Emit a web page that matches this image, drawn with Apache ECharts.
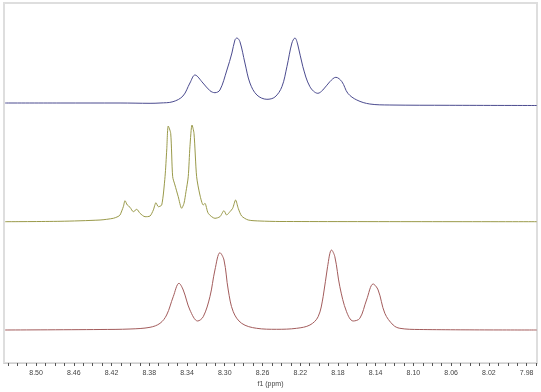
<!DOCTYPE html>
<html>
<head>
<meta charset="utf-8">
<script src="https://cdn.jsdelivr.net/npm/echarts@6/dist/echarts.min.js"></script>
<style>html,body{margin:0;padding:0;background:#fff;}#c{width:541px;height:392px;}</style>
</head>
<body>
<div id="c"></div>
<script>
// Top spectrum (blue)
var topPpm = [8.5328,8.4746,8.4110,8.3792,8.3686,8.3549,8.3443,8.3369,8.3316,8.3231,8.3157,8.3104,8.3051,8.2977,8.2924,8.2892,8.2871,8.2839,8.2786,8.2733,8.2659,8.2553,8.2468,8.2394,8.2341,8.2288,8.2256,8.2225,8.2172,8.2097,8.2013,8.1960,8.1886,8.1822,8.1758,8.1695,8.1600,8.1462,8.1250,8.0614,7.9693];
var topInt = [3,3,3,2.7,3,4.3,10,23,31,23,15.3,13.3,16,36,53,66,68,64.3,43,23,11,6.7,9,19.3,39.3,63,68,61,39.3,19.3,12.7,16,24.3,28.7,24.3,12.7,6,2,1,0.7,0.5];
// Middle spectrum (olive)
var midPpm = [8.5328,8.4746,8.4322,8.4181,8.4131,8.4110,8.4075,8.4057,8.4033,8.4004,8.3969,8.3933,8.3898,8.3845,8.3792,8.3757,8.3729,8.3704,8.3668,8.3633,8.3615,8.3599,8.3573,8.3552,8.3528,8.3493,8.3457,8.3432,8.3411,8.3387,8.3369,8.3347,8.3326,8.3298,8.3263,8.3228,8.3210,8.3175,8.3104,8.3051,8.3008,8.2980,8.2945,8.2916,8.2885,8.2857,8.2821,8.2751,8.2627,8.2415,7.9693];
var midInt = [0.3,0.7,2,3.7,5.5,7,15.3,21.3,17,14.7,10.3,12.7,8.7,5.3,6,12,19.3,15.3,17,45.3,72,96,88.7,45.3,37,25.3,13.7,18.7,30.3,45.3,75.3,97,88.7,45.3,27,17,18.7,8.7,3.7,5.3,11.3,7,10.3,13.7,22,13.7,6,2,1,0.5,0.3];
// Bottom spectrum (red)
var botPpm = [8.5328,8.4322,8.4004,8.3792,8.3686,8.3616,8.3546,8.3485,8.3440,8.3369,8.3287,8.3228,8.3157,8.3104,8.3051,8.3008,8.2963,8.2910,8.2821,8.2662,8.2450,8.2238,8.2097,8.2010,8.1957,8.1910,8.1868,8.1833,8.1780,8.1709,8.1639,8.1568,8.1497,8.1427,8.1374,8.1303,8.1215,8.1144,8.0932,7.9693];
var botInt = [0,0.5,1,2.7,6.7,15,33.3,46.7,40,20,9,13.3,33.3,60,77.3,70,40,18.3,6.7,1.7,0.7,1.7,5,13.3,33.3,63.3,80,73.3,43.3,18.3,9,11.7,30,46,40,16.7,5,1.7,0.5,0];
// Axis tick labels
var tickLabels = ['8.50','8.46','8.42','8.38','8.34','8.30','8.26','8.22','8.18','8.14','8.10','8.06','8.02','7.98'];
var minorTicks = ['8.53','8.52','8.51','8.50','8.49','8.48','8.47','8.46','8.45','8.44','8.43','8.42','8.41','8.40','8.39','8.38','8.37','8.36','8.35','8.34','8.33','8.32','8.31','8.30','8.29','8.28','8.27','8.26','8.25','8.24','8.23','8.22','8.21','8.20','8.19','8.18','8.17','8.16','8.15','8.14','8.13','8.12','8.11','8.10','8.09','8.08','8.07','8.06','8.05','8.04','8.03','8.02','8.01','8.00','7.99','7.98','7.97'];

function pairs(xs, ys){ return xs.map(function(x,i){ return [x, ys[i]]; }); }

var XMIN = 7.969, XMAX = 8.534;
var chart = echarts.init(document.getElementById('c'), null, {renderer:'canvas'});
var font = 'Liberation Sans';
function hiddenX(gi){ return {type:'value', gridIndex:gi, min:XMIN, max:XMAX, inverse:true, show:false}; }
var option = {
  animation:false,
  backgroundColor:'#fff',
  grid:[
    {left:4, right:4, top:3, height:107},
    {left:4, right:4, top:110, height:116},
    {left:4, right:4, top:226, height:137},
    {left:4, right:4, top:3, height:360, show:true, borderColor:'#dedede', borderWidth:2, backgroundColor:'transparent', z:0}
  ],
  xAxis:[
    hiddenX(0), hiddenX(1),
    {type:'value', gridIndex:2, min:XMIN, max:XMAX, inverse:true,
     name:'f1 (ppm)', nameLocation:'middle', nameGap:18,
     nameTextStyle:{fontFamily:font, fontSize:7, color:'#444'},
     axisLine:{show:true, onZero:false, lineStyle:{color:'#cfcfcf', width:1}},
     axisTick:{show:true, length:3, inside:false, customValues: minorTicks.map(Number), lineStyle:{color:'#555'}},
     axisLabel:{show:true, customValues: tickLabels.map(Number), margin:7, fontFamily:font, fontSize:7, color:'#444',
       formatter:function(v){ return v.toFixed(2); }},
     splitLine:{show:false}},
    hiddenX(3)
  ],
  yAxis:[
    {type:'value', gridIndex:0, min:-4, max:103, show:false},
    {type:'value', gridIndex:1, min:-4, max:112, show:false},
    {type:'value', gridIndex:2, min:-33, max:104, show:false},
    {type:'value', gridIndex:3, min:0, max:1, show:false}
  ],
  series:[
    {type:'line', xAxisIndex:0, yAxisIndex:0, data:pairs(topPpm, topInt), smooth:0.35, symbol:'none', lineStyle:{color:'#4b4b8f', width:1}},
    {type:'line', xAxisIndex:1, yAxisIndex:1, data:pairs(midPpm, midInt), smooth:0.25, symbol:'none', lineStyle:{color:'#9a9a4a', width:1}},
    {type:'line', xAxisIndex:2, yAxisIndex:2, data:pairs(botPpm, botInt), smooth:0.35, symbol:'none', lineStyle:{color:'#a35c5c', width:1}}
  ]
};
chart.setOption(option);
</script>
</body>
</html>
